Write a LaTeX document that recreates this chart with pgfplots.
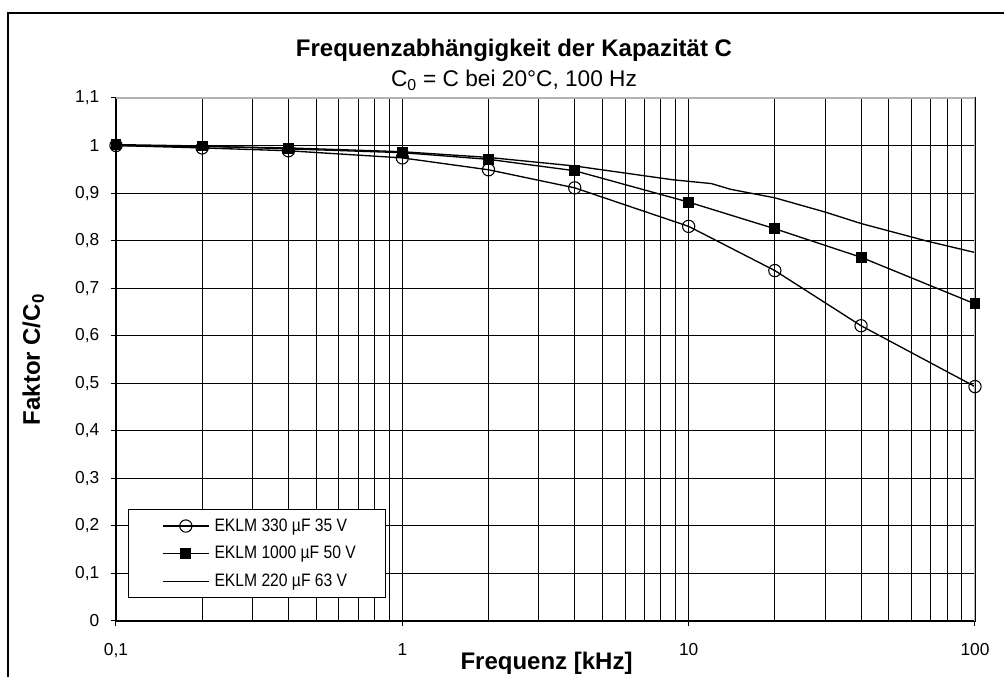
\documentclass[border=0pt]{standalone}
\usepackage{fontspec}
\setmainfont{Liberation Sans}
\newfontfamily\legfont[FakeStretch=0.87]{Liberation Sans}
\usepackage{pgfplots}
\pgfplotsset{compat=1.18}

\begin{document}
\begin{tikzpicture}
\useasboundingbox (0pt,0pt) rectangle (753pt,507.75pt);
\draw[line width=1.6pt] (6pt,-4pt) -- (6pt,498pt) -- (758pt,498pt);
\begin{axis}[
  at={(87pt,42pt)}, anchor=south west,
  scale only axis, width=644.25pt, height=392.25pt,
  xmode=log, log basis x=10,
  xmin=0.1, xmax=100, ymin=0, ymax=1.1,
  xtick={0.1,1,10,100},
  xticklabels={{0,1},1,10,100},
  extra x ticks={0.2,0.3,0.4,0.5,0.6,0.7,0.8,0.9,2,3,4,5,6,7,8,9,20,30,40,50,60,70,80,90},
  extra x tick labels={},
  extra x tick style={major tick length=0pt, grid=major},
  ytick={0,0.1,0.2,0.3,0.4,0.5,0.6,0.7,0.8,0.9,1,1.1},
  yticklabels={0,{0,1},{0,2},{0,3},{0,4},{0,5},{0,6},{0,7},{0,8},{0,9},1,{1,1}},
  xtick pos=bottom, ytick pos=left,
  tick align=outside,
  major tick length=4pt, minor tick length=0pt,
  tick style={black, line width=0.75pt},
  xmajorgrids, ymajorgrids,
  major grid style={black, line width=0.7pt},
  axis line style={black, line width=0.9pt},
  ticklabel style={font=\fontsize{13}{15}\selectfont},
  xticklabel style={yshift=-9.5pt},
  yticklabel style={xshift=-5pt},
  legend style={at={(0.014,0.0434)}, anchor=south west, draw=black, line width=0.75pt,
    fill=white, font=\legfont\fontsize{13.5}{15}\selectfont, inner xsep=0pt, inner ysep=7pt,
    row sep=9.75pt, column sep=0pt, nodes={inner sep=0pt}},
  legend cell align=left,
  legend image code/.code={\path (-25pt,0pt) (38.5pt,0pt); \draw[mark repeat=2,mark phase=2] plot coordinates {(0pt,0pt)(17.5pt,0pt)(35pt,0pt)};},
]
\addplot[black, line width=1pt, mark=o, mark size=4.6pt, mark options={fill=white, line width=0.8pt}]
 coordinates {(0.1,1.0)(0.2,0.995)(0.4,0.989)(1,0.974)(2,0.949)(4,0.911)(10,0.830)(20,0.737)(40,0.621)(100,0.493)};
\addlegendentry{\makebox[128.5pt][l]{EKLM 330 µF 35 V}}
\addplot[black, line width=1pt, mark=square*, mark size=3.6pt, mark options={fill=black}]
 coordinates {(0.1,1.002)(0.2,0.999)(0.4,0.993)(1,0.985)(2,0.971)(4,0.947)(10,0.881)(20,0.825)(40,0.765)(100,0.667)};
\addlegendentry{\makebox[128.5pt][l]{EKLM 1000 µF 50 V}}
\addplot[black, line width=1pt, no marks]
 coordinates {(0.1,1.0)(0.2,0.998)(0.4,0.995)(1,0.987)(2,0.975)(4,0.957)(8.8,0.928)(12,0.920)(14,0.908)(20,0.890)(30,0.860)(40,0.836)(68,0.799)(100,0.775)};
\addlegendentry{\makebox[128.5pt][l]{EKLM 220 µF 63 V}}
\draw[gray!60, line width=1.2pt] (rel axis cs:0,1) -- (rel axis cs:1,1) -- (rel axis cs:1,0);
\end{axis}
\node[font=\bfseries\fontsize{18}{21}\selectfont, anchor=base] at (385.5pt,465pt) {Frequenzabhängigkeit der Kapazität C};
\node[font=\fontsize{17}{21}\selectfont, anchor=base] at (385.5pt,442.7pt) {C\textsubscript{0} = C bei 20°C, 100 Hz};
\node[font=\bfseries\fontsize{18}{21}\selectfont, rotate=90, anchor=base] at (30pt,238pt) {Faktor C/C\textsubscript{0}};
\node[font=\bfseries\fontsize{18}{21}\selectfont, anchor=base] at (409.9pt,5.25pt) {Frequenz [kHz]};
\end{tikzpicture}
\end{document}
